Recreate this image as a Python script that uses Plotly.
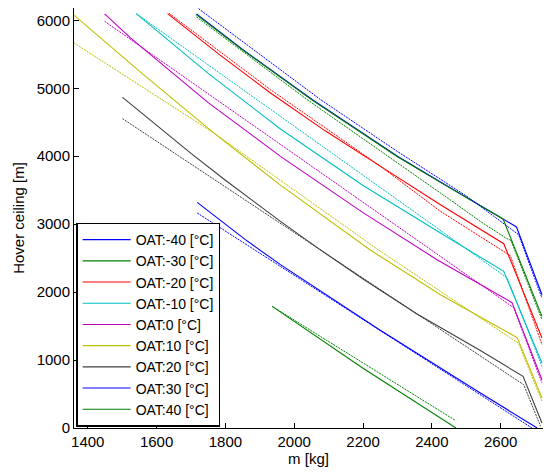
import plotly.graph_objects as go

# ---------------- data ----------------
OAT_LABELS = ["OAT:-40 [°C]", "OAT:-30 [°C]", "OAT:-20 [°C]", "OAT:-10 [°C]", "OAT:0 [°C]",
              "OAT:10 [°C]", "OAT:20 [°C]", "OAT:30 [°C]", "OAT:40 [°C]"]
COLORS = ["#0000FF", "#008000", "#FF0000", "#00BFBF", "#BF00BF",
          "#BFBF00", "#404040", "#0000FF", "#008000"]

# solid curves (mass [kg], hover ceiling [m])
M_N40 = [1716, 1850, 2052, 2300, 2425, 2607, 2646, 2720]
H_N40 = [6095, 5572, 4835, 4000, 3621, 3077, 2959, 1962]
M_N30 = [1714, 1850, 2052, 2300, 2425, 2607, 2720]
H_N30 = [6088, 5565, 4826, 3992, 3615, 3077, 1643]
M_N20 = [1632, 1780, 1931, 2090, 2251, 2425, 2609, 2720]
H_N20 = [6099, 5507, 4931, 4374, 3851, 3287, 2713, 1325]
M_N10 = [1541, 1750, 1960, 2200, 2425, 2609, 2720]
H_N10 = [6099, 5220, 4402, 3570, 2871, 2305, 957]
M_P00 = [1449, 1524, 1750, 1960, 2200, 2415, 2633, 2720]
H_P00 = [6095, 5741, 4790, 3998, 3170, 2477, 1845, 711]
M_P10 = [1360, 1560, 1766, 1960, 2221, 2425, 2648, 2720]
H_P10 = [6078, 5208, 4343, 3575, 2620, 1962, 1330, 442]
M_P20 = [1501, 1600, 1700, 1800, 1900, 1960, 2072, 2200, 2357, 2541, 2665, 2720]
H_P20 = [4867, 4451, 4042, 3647, 3265, 3041, 2636, 2194, 1678, 1140, 760, 74]
M_P30 = [1718, 1858, 1960, 2250, 2541, 2706]
H_P30 = [3321, 2772, 2404, 1440, 515, 0]
M_P40 = [1936, 2200, 2470]
H_P40 = [1790, 880, 0]

# dotted curves (approximation)
MF_N40 = [1722, 2076, 2300, 2502, 2652, 2720]
HF_N40 = [6172, 4835, 4070, 3409, 2846, 1914]
MF_N30 = [1716, 2037, 2425, 2541, 2614, 2630, 2720]
HF_N30 = [6050, 4835, 3459, 3041, 2800, 2760, 1594]
MF_N20 = [1636, 1931, 2251, 2425, 2628, 2720]
HF_N20 = [6105, 4980, 3851, 3189, 2537, 1227]
MF_N10 = [1541, 2425, 2619, 2720]
HF_N10 = [6099, 2900, 2208, 907]
MF_P00 = [1449, 2638, 2720]
HF_P00 = [5986, 1770, 662]
MF_P10 = [1360, 1766, 2245, 2652, 2720]
HF_P10 = [5668, 4343, 2620, 1246, 392]
MF_P20 = [1501, 2667, 2716]
HF_P20 = [4553, 637, 24]
MF_P30 = [1718, 2691]
HF_P30 = [3165, 0]
MF_P40 = [1936, 2468]
HF_P40 = [1790, 112]

SOLID_M = [M_N40, M_N30, M_N20, M_N10, M_P00, M_P10, M_P20, M_P30, M_P40]
SOLID_H = [H_N40, H_N30, H_N20, H_N10, H_P00, H_P10, H_P20, H_P30, H_P40]
FIT_M = [MF_N40, MF_N30, MF_N20, MF_N10, MF_P00, MF_P10, MF_P20, MF_P30, MF_P40]
FIT_H = [HF_N40, HF_N30, HF_N20, HF_N10, HF_P00, HF_P10, HF_P20, HF_P30, HF_P40]

X_TICKS = [1400, 1600, 1800, 2000, 2200, 2400, 2600]
Y_TICKS = [0, 1000, 2000, 3000, 4000, 5000, 6000]

FONT = "Liberation Sans, Arial, Helvetica, sans-serif"

fig = go.Figure()
for lab, col, mm, hh in zip(OAT_LABELS, COLORS, SOLID_M, SOLID_H):
    fig.add_trace(go.Scatter(x=mm, y=hh, mode="lines", name=lab,
                             line=dict(color=col, width=1.1)))
for lab, col, mm, hh in zip(OAT_LABELS, COLORS, FIT_M, FIT_H):
    fig.add_trace(go.Scatter(x=mm, y=hh, mode="lines", name=lab, showlegend=False,
                             line=dict(color=col, width=1, dash="2px,1px")))

axis_common = dict(showgrid=False, zeroline=False, showline=True, linecolor="black",
                   linewidth=1, ticks="inside", ticklen=5, tickcolor="black",
                   tickfont=dict(family=FONT, size=15, color="black"), mirror=False)

fig.update_layout(
    width=547, height=472,
    margin=dict(l=74, r=4, t=8, b=44),
    plot_bgcolor="white", paper_bgcolor="white",
    font=dict(family=FONT, size=15, color="black"),
    xaxis=dict(range=[1360, 2723], tickvals=X_TICKS,
               title=dict(text="m [kg]", font=dict(family=FONT, size=15), standoff=3),
               **axis_common),
    yaxis=dict(range=[0, 6182], tickvals=Y_TICKS,
               title=dict(text="Hover ceiling [m]", font=dict(family=FONT, size=15), standoff=8),
               **axis_common),
    legend=dict(x=0.005, y=0.003, xanchor="left", yanchor="bottom",
                bgcolor="white", bordercolor="black", borderwidth=1.3,
                itemwidth=48,
                font=dict(family=FONT, size=14, color="black"), tracegroupgap=0),
    showlegend=True,
)

fig.write_html("out.html")
